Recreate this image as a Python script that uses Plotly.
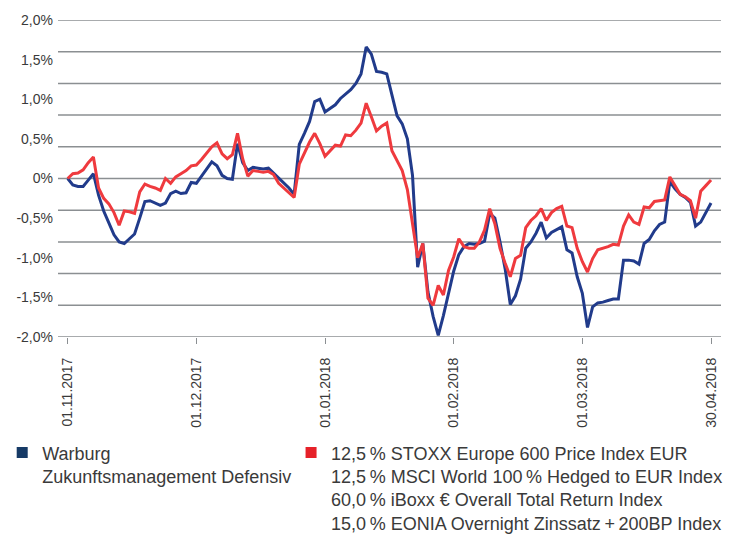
import plotly.graph_objects as go

# ---- data (percent performance, one value per trading day) ----
fund_name = "Warburg<br>Zukunftsmanagement Defensiv"
bench_name = ("12,5\u2009% STOXX Europe 600 Price Index EUR<br>"
              "12,5\u2009% MSCI World 100\u2009% Hedged to EUR Index<br>"
              "60,0\u2009% iBoxx € Overall Total Return Index<br>"
              "15,0\u2009% EONIA Overnight Zinssatz\u2009+\u2009200BP Index")

fund = [0.00, -0.08, -0.10, -0.10, -0.02, 0.06, -0.21, -0.41, -0.56, -0.71,
        -0.80, -0.82, -0.76, -0.70, -0.50, -0.29, -0.28, -0.31, -0.34, -0.31,
        -0.19, -0.16, -0.19, -0.18, -0.05, -0.06, 0.03, 0.12, 0.21, 0.16,
        0.04, 0.00, -0.01, 0.44, 0.20, 0.10, 0.14, 0.13, 0.12, 0.13,
        0.07, 0.00, -0.06, -0.12, -0.20, 0.43, 0.57, 0.72, 0.97, 1.00,
        0.84, 0.89, 0.93, 1.01, 1.07, 1.12, 1.20, 1.32, 1.66, 1.57,
        1.35, 1.34, 1.32, 1.07, 0.79, 0.69, 0.50, 0.04, -1.12, -0.82,
        -1.43, -1.74, -1.98, -1.73, -1.46, -1.17, -0.96, -0.86, -0.82, -0.83,
        -0.82, -0.79, -0.44, -0.50, -0.80, -1.14, -1.59, -1.48, -1.27, -0.88,
        -0.80, -0.69, -0.55, -0.75, -0.68, -0.64, -0.61, -0.90, -0.94, -1.24,
        -1.45, -1.88, -1.62, -1.57, -1.56, -1.54, -1.52, -1.52, -1.03, -1.03,
        -1.04, -1.08, -0.82, -0.77, -0.66, -0.58, -0.55, -0.04, -0.13, -0.20,
        -0.24, -0.30, -0.60, -0.55, -0.42, -0.31]

benchmark = [0.00, 0.06, 0.07, 0.11, 0.20, 0.27, -0.12, -0.25, -0.32, -0.43,
             -0.59, -0.41, -0.42, -0.44, -0.17, -0.07, -0.10, -0.12, -0.15, 0.00,
             -0.06, 0.02, 0.06, 0.10, 0.16, 0.17, 0.24, 0.32, 0.40, 0.45,
             0.31, 0.25, 0.30, 0.57, 0.25, 0.03, 0.10, 0.09, 0.08, 0.09,
             0.05, -0.06, -0.12, -0.18, -0.24, 0.18, 0.32, 0.46, 0.57, 0.44,
             0.28, 0.35, 0.42, 0.41, 0.55, 0.54, 0.61, 0.70, 0.95, 0.78,
             0.60, 0.66, 0.70, 0.35, 0.22, 0.10, -0.14, -0.55, -1.00, -0.82,
             -1.51, -1.60, -1.35, -1.47, -1.16, -0.99, -0.76, -0.86, -0.88, -0.88,
             -0.80, -0.65, -0.38, -0.57, -0.88, -1.07, -1.24, -1.01, -0.97, -0.62,
             -0.53, -0.47, -0.38, -0.53, -0.43, -0.38, -0.35, -0.60, -0.62, -0.88,
             -1.05, -1.18, -1.01, -0.90, -0.88, -0.86, -0.83, -0.84, -0.60, -0.46,
             -0.55, -0.58, -0.36, -0.37, -0.29, -0.28, -0.27, 0.02, -0.09, -0.20,
             -0.23, -0.28, -0.50, -0.16, -0.09, -0.02]

x_tick_days = [0, 25, 50, 75, 100, 125]
x_tick_labels = ["01.11.2017", "01.12.2017", "01.01.2018",
                 "01.02.2018", "01.03.2018", "30.04.2018"]
y_tick_values = [-2.0, -1.5, -1.0, -0.5, 0.0, 0.5, 1.0, 1.5, 2.0]
y_tick_labels = ["-2,0%", "-1,5%", "-1,0%", "-0,5%", "0%",
                 "0,5%", "1,0%", "1,5%", "2,0%"]
grid_values = [-2.0, -1.6, -1.2, -0.8, -0.4, 0.0, 0.4, 0.8, 1.2, 1.6, 2.0]

# ---- styling ----
BLUE = "#213b8b"
RED = "#ef3a3e"
BLUE_KEY = "#163a66"
RED_KEY = "#e62129"
GRID = "#8b8f92"
TEXT = "#3a3a3a"
FONT = "Liberation Sans, Arial, sans-serif"

days = list(range(len(fund)))

fig = go.Figure()
fig.add_trace(go.Scatter(x=days, y=fund, mode="lines",
                         line=dict(color=BLUE, width=3),
                         showlegend=False, hoverinfo="skip"))
fig.add_trace(go.Scatter(x=days, y=benchmark, mode="lines",
                         line=dict(color=RED, width=3),
                         showlegend=False, hoverinfo="skip"))
# legend keys (square swatches), one legend box each
fig.add_trace(go.Scatter(x=[None], y=[None], mode="markers", name=fund_name,
                         marker=dict(symbol="square", size=11, color=BLUE_KEY),
                         legend="legend"))
fig.add_trace(go.Scatter(x=[None], y=[None], mode="markers", name=bench_name,
                         marker=dict(symbol="square", size=11, color=RED_KEY),
                         legend="legend2"))

for g in grid_values:
    fig.add_shape(type="line", xref="paper", yref="y", x0=0, x1=1, y0=g, y1=g,
                  line=dict(color=GRID, width=1.5), layer="below")

legend_common = dict(orientation="v", xref="container", yref="container",
                     xanchor="left", yanchor="top",
                     font=dict(size=18, color=TEXT, family=FONT),
                     valign="top", bgcolor="rgba(0,0,0,0)", borderwidth=0,
                     itemwidth=30, maxheight=220)

fig.update_layout(
    width=735, height=535,
    margin=dict(l=58, r=14, t=20, b=198, autoexpand=False),
    paper_bgcolor="white", plot_bgcolor="white",
    font=dict(family=FONT, color=TEXT, size=14),
    xaxis=dict(range=[-1.88, 126.94], tickmode="array", tickvals=x_tick_days,
               ticktext=x_tick_labels, tickangle=-90, showgrid=False,
               zeroline=False, showline=False, ticks="outside", ticklen=6,
               tickwidth=1.2, tickcolor=GRID, ticklabelstandoff=8,
               tickfont=dict(size=14, color=TEXT)),
    yaxis=dict(range=[-2, 2], tickmode="array", tickvals=y_tick_values,
               ticktext=y_tick_labels, showgrid=False, zeroline=False,
               showline=False, ticks="", ticklabelstandoff=4,
               tickfont=dict(size=14, color=TEXT)),
    legend=dict(x=0.003, y=0.188, **legend_common),
    legend2=dict(x=0.396, y=0.188, **legend_common),
)

fig.write_html("out.html", config={"displayModeBar": False},
               post_script="document.body.style.margin='0';")
